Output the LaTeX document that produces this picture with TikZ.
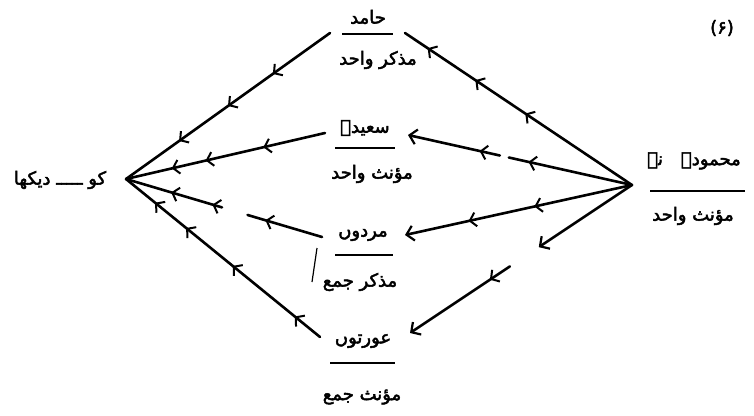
\documentclass[tikz,border=0pt]{standalone}
\usepackage{fontspec}
\newfontfamily\urdu[Script=Arabic, AutoFakeBold=2.5]{DejaVu Sans}
\TeXXeTstate=1
\usetikzlibrary{arrows.meta,decorations.markings,calc}
\newcommand{\urtxt}[1]{\beginR #1\endR}
\tikzset{
  ln/.style={line width=2.6pt, line cap=round},
  chev/.style={postaction={decorate,decoration={markings,mark=at position #1 with {\arrow[line width=2pt]{Straight Barb[length=6pt,width=14pt]}}}}},
  tip/.style={-{Straight Barb[length=7pt,width=15pt,line width=2.2pt]}},
  ur/.style={font=\urdu\bfseries\fontsize{18}{21}\selectfont, inner sep=0pt},
  ul/.style={line width=2pt},
}
\begin{document}
\begin{tikzpicture}[x=1pt,y=-1pt]
\useasboundingbox (0,0) rectangle (754,415);
% apexes
\coordinate (R) at (632,185);
\coordinate (L) at (126,179);
% line ends
\coordinate (a1) at (405,33);  \coordinate (a2) at (330,33);
\coordinate (b1) at (408,135); \coordinate (b2) at (325,133);
\coordinate (c1) at (405,235); \coordinate (c2) at (322,237);
\coordinate (d1) at (410,333); \coordinate (d2) at (320,337);
% texts
\node[ur] (hamid) at (368,17) {\urtxt{حامد}};
\node[ur] (hamidg) at (378,60) {\urtxt{مذکر واحد}};
\node[ur] (saeeda) at (365,128) {\urtxt{سعیدہ}};
\node[ur] (saeedag) at (372,174) {\urtxt{مؤنث واحد}};
\node[ur] (mardon) at (363,235) {\urtxt{مردوں}};
\node[ur] (mardong) at (360,282) {\urtxt{مذکر جمع}};
\node[ur] (aurton) at (363,341) {\urtxt{عورتوں}};
\node[ur] (aurtong) at (362,397) {\urtxt{مؤنث جمع}};
\node[ur] (mahmooda) at (694,161) {\urtxt{محمودہ\quad نے}};
\node[ur] (mahmoodag) at (693,216) {\urtxt{مؤنث واحد}};
\node[ur] (dekha) at (60,180) {\urtxt{کو ـــــ دیکھا}};
\node[ur] (num) at (722,28) {(۶)};
% underlines
\coordinate (u1a) at (342,34); \coordinate (u1b) at (393,34);
\coordinate (u2a) at (335,148); \coordinate (u2b) at (395,148);
\coordinate (u3a) at (335,255); \coordinate (u3b) at (393,255);
\coordinate (u4a) at (330,363); \coordinate (u4b) at (395,363);
\coordinate (u5a) at (650,191); \coordinate (u5b) at (745,191);
\draw[ul] (u1a) -- (u1b);
\draw[ul] (u2a) -- (u2b);
\draw[ul] (u3a) -- (u3b);
\draw[ul] (u4a) -- (u4b);
\draw[ul] (u5a) -- (u5b);
% stray stroke
\coordinate (s1) at (317,248); \coordinate (s2) at (312,282);
\draw[line width=1.2pt] (s1) -- (s2);
% connectors: right apex to objects
\draw[ln, chev=0.47, chev=0.69, chev=0.90] (R) -- (a1);
\draw[ln, chev=0.84] (R) -- ($(R)!0.55!(b1)$);
\draw[ln, tip, chev=0.22] ($(R)!0.59!(b1)$) -- (b1);
\draw[ln, tip, chev=0.43, chev=0.72] (R) -- (c1);
\draw[ln, tip] (R) -- ($(R)!0.42!(d1)$);
\draw[ln, tip, chev=0.2] ($(R)!0.55!(d1)$) -- (d1);
% connectors: objects to left apex
\draw[ln, chev=0.28, chev=0.50, chev=0.74] (a2) -- (L);
\draw[ln, chev=0.31, chev=0.60, chev=0.77] (b2) -- (L);
\draw[ln, chev=0.76] (c2) -- ($(c2)!0.38!(L)$);
\draw[ln, chev=0.10, chev=0.53] ($(c2)!0.51!(L)$) -- (L);
\draw[ln, chev=0.13, chev=0.45, chev=0.69, chev=0.85] (d2) -- (L);
\end{tikzpicture}
\end{document}
